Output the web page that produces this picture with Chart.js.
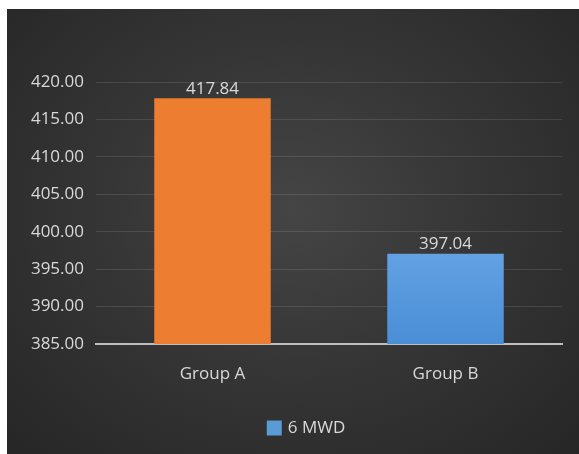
<!DOCTYPE html>
<html>
<head>
<meta charset="utf-8">
<script src="https://cdn.jsdelivr.net/npm/chart.js@4"></script>
<style>
  html, body { margin: 0; padding: 0; background: #fff; }
  #wrap {
    position: absolute; left: 7px; top: 9px; width: 572px; height: 445px;
    background: radial-gradient(ellipse at 50% 45%, #454545 0%, #363636 45%, #262626 100%);
  }
</style>
</head>
<body>
<div id="wrap"><canvas id="chart"></canvas></div>
<script>
const categories = ['Group A', 'Group B'];
const values = [417.84, 397.04];
const seriesName = '6 MWD';
const yMin = 385, yMax = 420, yStep = 5;

const textColor = '#d9d9d9';
const fontFamily = '"Open Sans", sans-serif';
const legendColor = '#5b9bd5';

const barLabels = {
  id: 'barLabels',
  afterDatasetsDraw(chart) {
    const ctx = chart.ctx;
    const meta = chart.getDatasetMeta(0);
    ctx.save();
    ctx.fillStyle = textColor;
    ctx.font = '17px ' + fontFamily;
    ctx.textAlign = 'center';
    ctx.textBaseline = 'bottom';
    meta.data.forEach((bar, i) => {
      ctx.fillText(values[i].toFixed(2), bar.x, bar.y - 1);
    });
    ctx.restore();
  }
};

// legend sits a little left of the plot centre, like the original
const bottomLegend = {
  id: 'bottomLegend',
  afterDraw(chart) {
    const ctx = chart.ctx;
    const area = chart.chartArea;
    ctx.save();
    ctx.font = '17px ' + fontFamily;
    const textW = ctx.measureText(seriesName).width;
    const box = 15, gap = 6;
    const total = box + gap + textW;
    const cx = (area.left + area.right) / 2 - 23;
    const x0 = cx - total / 2;
    const cy = chart.height - 26;
    ctx.fillStyle = legendColor;
    ctx.fillRect(x0, cy - box / 2, box, box);
    ctx.fillStyle = textColor;
    ctx.textBaseline = 'middle';
    ctx.textAlign = 'left';
    ctx.fillText(seriesName, x0 + box + gap, cy);
    ctx.restore();
  }
};

function blueGradient(ctx) {
  const area = ctx.chart.chartArea;
  if (!area) return legendColor;
  const g = ctx.chart.ctx.createLinearGradient(0, area.top, 0, area.bottom);
  g.addColorStop(0, '#8fc0f0');
  g.addColorStop(0.45, '#71acea');
  g.addColorStop(1, '#4a8ed6');
  return g;
}

new Chart(document.getElementById('chart'), {
  type: 'bar',
  data: {
    labels: categories,
    datasets: [{
      label: seriesName,
      data: values,
      backgroundColor: (ctx) => ctx.dataIndex === 0 ? '#ed7d31' : blueGradient(ctx),
      barPercentage: 0.5,
      categoryPercentage: 1.0
    }]
  },
  options: {
    responsive: true,
    maintainAspectRatio: false,
    animation: false,
    layout: { padding: { top: 73, right: 17, left: 0, bottom: 40 } },
    plugins: {
      legend: { display: false },
      tooltip: { enabled: false }
    },
    scales: {
      x: {
        grid: { display: false },
        border: { color: '#bfbfbf', width: 2 },
        ticks: { color: textColor, font: { size: 17, family: fontFamily }, padding: 12 },
        afterFit(scale) { scale.height = 70; }
      },
      y: {
        min: yMin,
        max: yMax,
        border: { display: false },
        grid: {
          color: (ctx) => ctx.tick && ctx.tick.value === yMin ? 'rgba(0,0,0,0)' : 'rgba(255,255,255,0.11)',
          drawTicks: false
        },
        ticks: {
          stepSize: yStep,
          color: textColor,
          font: { size: 17, family: fontFamily },
          padding: 12,
          callback: (v) => v.toFixed(2)
        },
        afterFit(scale) { scale.width = 89; }
      }
    }
  },
  plugins: [barLabels, bottomLegend]
});
</script>
</body>
</html>
